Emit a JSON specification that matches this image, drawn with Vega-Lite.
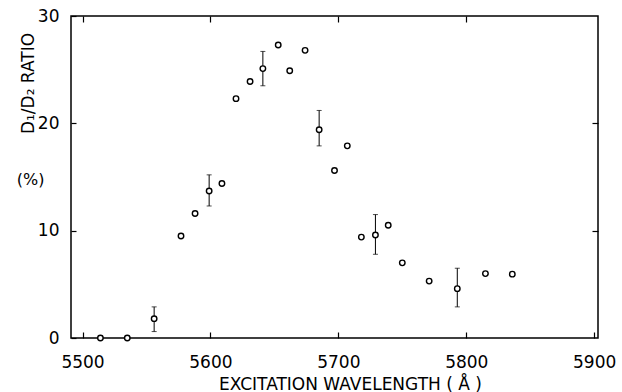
{
  "$schema": "https://vega.github.io/schema/vega-lite/v6.json",
  "width": 527,
  "height": 322,
  "autosize": {"type": "none"},
  "padding": {"left": 71, "top": 16, "right": 24, "bottom": 54},
  "background": "white",
  "config": {
    "view": {"stroke": "black", "strokeWidth": 1.5},
    "font": "DejaVu Sans",
    "axis": {"domain": false, "grid": false, "tickColor": "black", "tickWidth": 1.2, "labelColor": "black", "titleColor": "black", "labelFont": "DejaVu Sans", "titleFont": "DejaVu Sans", "labelFontWeight": "normal", "titleFontWeight": "normal"}
  },
  "datasets": {
    "pts": [
      {"wl": 5514, "r": 0.0, "lo": null, "hi": null},
      {"wl": 5535, "r": 0.0, "lo": null, "hi": null},
      {"wl": 5556, "r": 1.8, "lo": 0.6, "hi": 2.9},
      {"wl": 5577, "r": 9.5, "lo": null, "hi": null},
      {"wl": 5588, "r": 11.6, "lo": null, "hi": null},
      {"wl": 5599, "r": 13.7, "lo": 12.3, "hi": 15.2},
      {"wl": 5609, "r": 14.4, "lo": null, "hi": null},
      {"wl": 5620, "r": 22.3, "lo": null, "hi": null},
      {"wl": 5631, "r": 23.9, "lo": null, "hi": null},
      {"wl": 5641, "r": 25.1, "lo": 23.5, "hi": 26.7},
      {"wl": 5653, "r": 27.3, "lo": null, "hi": null},
      {"wl": 5662, "r": 24.9, "lo": null, "hi": null},
      {"wl": 5674, "r": 26.8, "lo": null, "hi": null},
      {"wl": 5685, "r": 19.4, "lo": 17.9, "hi": 21.2},
      {"wl": 5697, "r": 15.6, "lo": null, "hi": null},
      {"wl": 5707, "r": 17.9, "lo": null, "hi": null},
      {"wl": 5718, "r": 9.4, "lo": null, "hi": null},
      {"wl": 5729, "r": 9.6, "lo": 7.8, "hi": 11.5},
      {"wl": 5739, "r": 10.5, "lo": null, "hi": null},
      {"wl": 5750, "r": 7.0, "lo": null, "hi": null},
      {"wl": 5771, "r": 5.3, "lo": null, "hi": null},
      {"wl": 5793, "r": 4.6, "lo": 2.9, "hi": 6.5},
      {"wl": 5815, "r": 6.0, "lo": null, "hi": null},
      {"wl": 5836, "r": 5.95, "lo": null, "hi": null}
    ],
    "lab": [{"x": 5459.5, "y": 14.7, "t": "(%)"}]
  },
  "data": {"name": "pts"},
  "resolve": {"axis": {"x": "independent", "y": "independent"}},
  "layer": [
    {
      "transform": [{"filter": "datum.lo != null"}],
      "mark": {"type": "rule", "color": "black", "strokeWidth": 1},
      "encoding": {
        "x": {"field": "wl", "type": "quantitative", "scale": {"domain": [5491, 5903], "nice": false, "zero": false},
              "axis": {"orient": "top", "values": [5500, 5600, 5700, 5800], "labels": false, "title": null, "tickSize": 6, "offset": -6}},
        "y": {"field": "lo", "type": "quantitative", "scale": {"domain": [0, 30], "nice": false},
              "axis": {"orient": "right", "values": [10, 20], "labels": false, "title": null, "tickSize": 6, "offset": -6}},
        "y2": {"field": "hi"}
      }
    },
    {
      "transform": [{"filter": "datum.lo != null"}],
      "mark": {"type": "tick", "orient": "horizontal", "color": "black", "size": 5, "thickness": 1},
      "encoding": {
        "x": {"field": "wl", "type": "quantitative", "axis": null},
        "y": {"field": "lo", "type": "quantitative", "axis": null}
      }
    },
    {
      "transform": [{"filter": "datum.lo != null"}],
      "mark": {"type": "tick", "orient": "horizontal", "color": "black", "size": 5, "thickness": 1},
      "encoding": {
        "x": {"field": "wl", "type": "quantitative", "axis": null},
        "y": {"field": "hi", "type": "quantitative", "axis": null}
      }
    },
    {
      "mark": {"type": "point", "shape": "circle", "filled": false, "fill": "white", "fillOpacity": 1, "stroke": "black", "strokeWidth": 1.4, "size": 30, "opacity": 1},
      "encoding": {
        "x": {"field": "wl", "type": "quantitative",
              "axis": {"orient": "bottom", "values": [5500, 5600, 5700, 5800, 5900], "format": "d", "tickSize": 6, "offset": -6, "labelPadding": 16, "labelFontSize": 17, "title": "EXCITATION WAVELENGTH ( Å )", "titleFontSize": 17, "titleX": 279, "titleY": 57, "titleBaseline": "alphabetic", "titleAnchor": "middle"}},
        "y": {"field": "r", "type": "quantitative",
              "axis": {"orient": "left", "values": [0, 10, 20, 30], "format": "d", "tickSize": 5, "offset": -5, "labelPadding": 12, "labelFontSize": 17, "title": "D₁/D₂  RATIO", "titleFontSize": 17, "titleAngle": -90, "titleX": -43, "titleY": 67, "titleBaseline": "alphabetic", "titleAlign": "center", "titleAnchor": "middle"}}
      }
    },
    {
      "data": {"name": "lab"},
      "mark": {"type": "text", "fontSize": 16, "color": "black", "font": "DejaVu Sans", "align": "center", "baseline": "middle"},
      "encoding": {
        "x": {"field": "x", "type": "quantitative", "axis": null},
        "y": {"field": "y", "type": "quantitative", "axis": null},
        "text": {"field": "t"}
      }
    }
  ]
}
